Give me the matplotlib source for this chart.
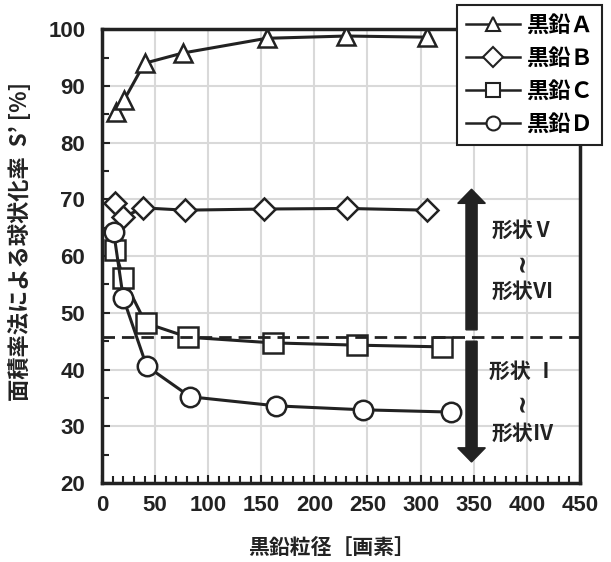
"""Spheroidization ratio vs graphite particle size
"""
import matplotlib
matplotlib.use("Agg")
import matplotlib.pyplot as plt
from matplotlib.patches import FancyArrow
from matplotlib.lines import Line2D
from matplotlib.ticker import MultipleLocator
from matplotlib import font_manager

# graphite particle size [px] and area-ratio spheroidization S' [%]
size_a = [13, 21, 40, 76, 155, 230, 306]
ratio_a = [85.4, 87.6, 94.0, 95.8, 98.4, 98.8, 98.6]
size_b = [12, 20, 39, 78, 153, 231, 306]
ratio_b = [69.4, 66.9, 68.5, 68.1, 68.3, 68.4, 68.1]
size_c = [12, 20, 41, 81, 161, 240, 320]
ratio_c = [61.1, 56.1, 48.2, 45.7, 44.7, 44.3, 44.0]
size_d = [11, 20, 42, 83, 164, 246, 329]
ratio_d = [64.2, 52.6, 40.6, 35.2, 33.6, 32.9, 32.5]
series_labels = ["黒鉛Ａ", "黒鉛Ｂ", "黒鉛Ｃ", "黒鉛Ｄ"]
series_markers = ["^", "D", "s", "o"]
threshold = 45.7

ink = "#222222"
cjk = ["Noto Sans CJK JP", "DejaVu Sans"]
num_font = font_manager.FontProperties(family=["Liberation Sans"], weight="bold", size=16)

fig = plt.figure(figsize=(6.11, 5.62), dpi=100)
ax = fig.add_axes([0.167, 0.1406, 0.782, 0.8074])

marker_sizes = [13, 11, 14, 14]
for x, y, m, ms in zip([size_a, size_b, size_c, size_d],
                       [ratio_a, ratio_b, ratio_c, ratio_d],
                       series_markers, marker_sizes):
    ax.plot(x, y, color=ink, linewidth=2.2, marker=m, markersize=ms,
            markerfacecolor="white", markeredgecolor=ink,
            markeredgewidth=1.8, zorder=4)

ax.axhline(threshold, color=ink, linewidth=2.0, linestyle=(0, (4.5, 2.5)), zorder=5)

# shape range arrows, split at the threshold line
arrow_x = 348
ax.add_patch(FancyArrow(arrow_x, 47.0, 0, 71.8 - 47.0, width=10.5, head_width=26,
                        head_length=2.5, length_includes_head=True,
                        color=ink, zorder=3))
ax.add_patch(FancyArrow(arrow_x, 45.0, 0, 23.7 - 45.0, width=10.5, head_width=26,
                        head_length=2.5, length_includes_head=True,
                        color=ink, zorder=3))

# shape class labels beside the arrows
text_x = 396
for label, ypos in [("形状Ⅴ", 64.6), ("形状Ⅵ", 53.7), ("形状 Ⅰ", 39.6), ("形状Ⅳ", 28.8)]:
    ax.text(text_x, ypos, label, ha="center", va="center", fontsize=15,
            fontweight="bold", family=cjk, color=ink)
for ypos in [58.9, 34.3]:
    ax.text(text_x, ypos, "~", ha="center", va="center", fontsize=17,
            fontweight="bold", rotation=90, color=ink)

ax.set_xlim(0, 450)
ax.set_ylim(20, 100)
ax.xaxis.set_major_locator(MultipleLocator(50))
ax.xaxis.set_minor_locator(MultipleLocator(10))
ax.yaxis.set_major_locator(MultipleLocator(10))
ax.yaxis.set_minor_locator(MultipleLocator(5))
ax.grid(True, which="major", color="#d9d9d9", linewidth=1.5, zorder=0)
ax.set_axisbelow(True)
ax.tick_params(which="both", direction="in", width=1.5, color=ink)
ax.tick_params(which="major", length=6)
ax.tick_params(which="minor", length=5)
ax.tick_params(axis="x", which="major", pad=9)
ax.tick_params(axis="y", which="major", pad=12)
for lab in ax.get_xticklabels() + ax.get_yticklabels():
    lab.set_fontproperties(num_font)
    lab.set_color(ink)
for sp in ax.spines.values():
    sp.set_linewidth(2.5)
    sp.set_color(ink)

ax.set_xlabel("黒鉛粒径［画素］", family=cjk, fontsize=15, fontweight="bold", color=ink)
ax.xaxis.set_label_coords(0.481, -0.118)
ax.set_ylabel("面積率法による球状化率  S’ [%]", family=cjk, fontsize=16,
              fontweight="bold", color=ink)
ax.yaxis.set_label_coords(-0.146, 0.533)

handles = [Line2D([0], [0], color=ink, linewidth=1.8, marker=m, markersize=10,
                  markerfacecolor="white", markeredgecolor=ink, markeredgewidth=1.5)
           for m in series_markers]
leg = ax.legend(handles, series_labels, loc="upper right", bbox_to_anchor=(0.985, 0.991),
                bbox_transform=fig.transFigure, fancybox=False, framealpha=1,
                edgecolor=ink, handlelength=2.4, borderpad=0.4,
                labelspacing=0.45, handletextpad=0.3, borderaxespad=0,
                prop=font_manager.FontProperties(family=cjk, weight="bold", size=16))
leg.get_frame().set_linewidth(1.5)
leg.set_zorder(10)

fig.savefig("out.png", dpi=100)
